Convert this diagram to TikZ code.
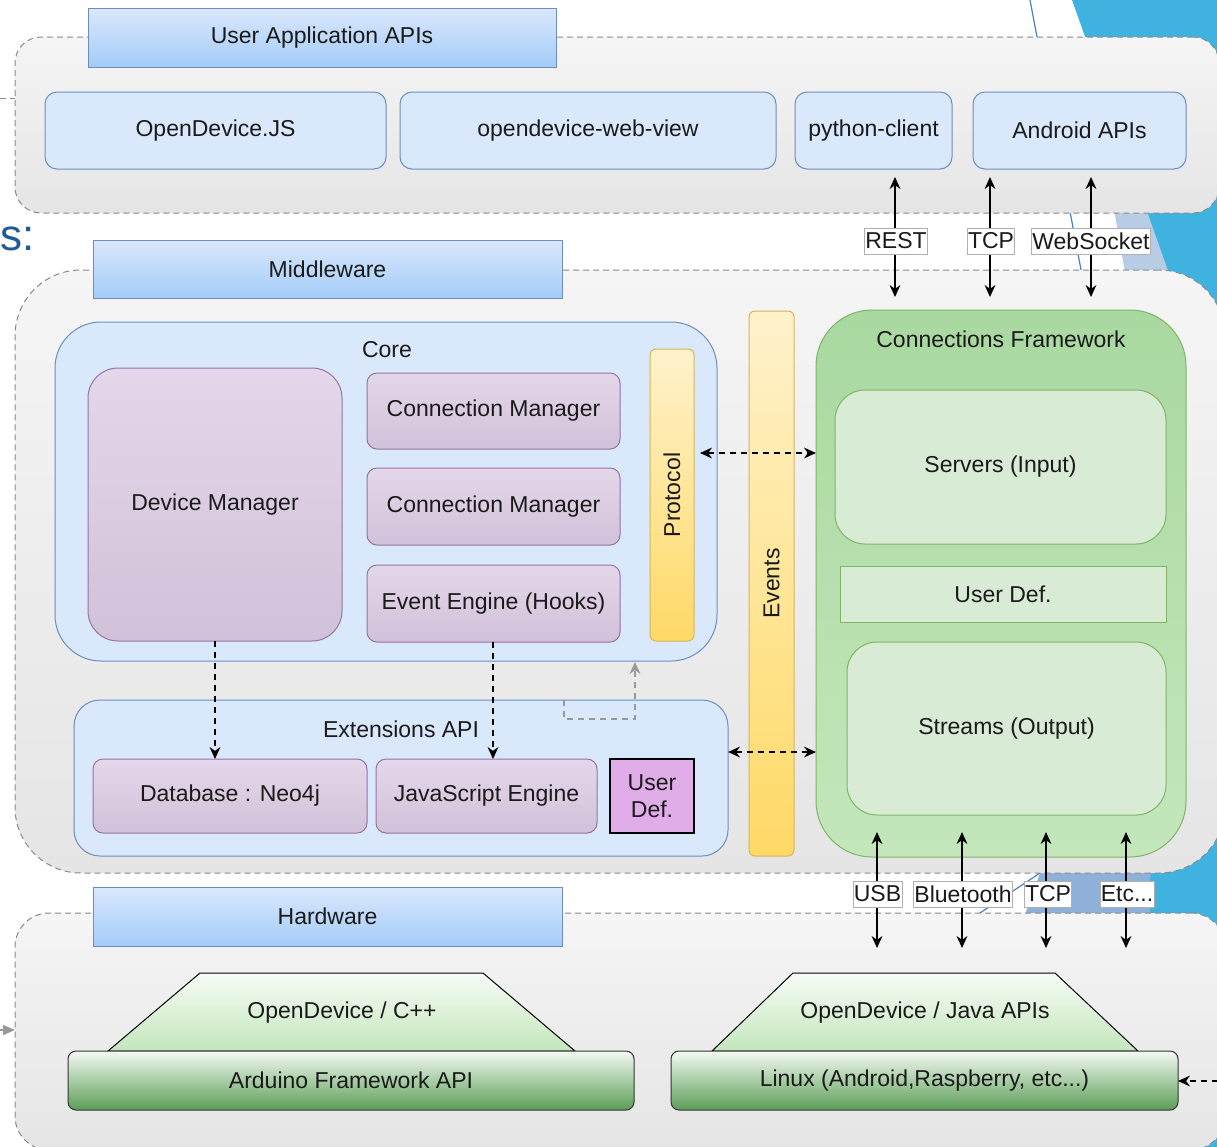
\documentclass[tikz,border=0pt]{standalone}
\usepackage{fontspec}
\setmainfont{Liberation Sans}
\usetikzlibrary{arrows.meta,fit,calc}
\definecolor{txt}{HTML}{1A1A1A}
\definecolor{grpline}{HTML}{8A8A8A}
\definecolor{grpA}{HTML}{F5F5F5}
\definecolor{grpB}{HTML}{E5E5E5}
\definecolor{blueline}{HTML}{6C8EBF}
\definecolor{tabA}{HTML}{DAE8FC}
\definecolor{tabB}{HTML}{A3CCF8}
\definecolor{bluefill}{HTML}{DAE8FC}
\definecolor{purpline}{HTML}{9673A6}
\definecolor{purpA}{HTML}{E4D7EA}
\definecolor{purpB}{HTML}{D1C1D9}
\definecolor{yelline}{HTML}{D6B656}
\definecolor{yelA}{HTML}{FFF2CC}
\definecolor{yelB}{HTML}{FFD966}
\definecolor{grnline}{HTML}{82B366}
\definecolor{cfA}{HTML}{A9D8A0}
\definecolor{cfB}{HTML}{C3E7BB}
\definecolor{grnfill}{HTML}{D8EBD4}
\definecolor{udfill}{HTML}{E0ADE8}
\definecolor{trA}{HTML}{F7FCF6}
\definecolor{trB}{HTML}{C3E6BB}
\definecolor{hwA}{HTML}{F4FAF3}
\definecolor{hwB}{HTML}{5C9E57}
\definecolor{hwline}{HTML}{333333}
\definecolor{lblline}{HTML}{B0B0B0}
\definecolor{bgblue}{HTML}{3FB2E0}
\definecolor{bglight}{HTML}{B8CDE5}
\definecolor{bgmid}{HTML}{8FB1D9}
\definecolor{bgline}{HTML}{4A7FC1}
\definecolor{stext}{HTML}{1F5C94}
\definecolor{grayarr}{HTML}{999999}
\begin{document}
\begin{tikzpicture}[x=0.5pt,y=-0.5pt,
  font=\fontsize{11.5}{13.5}\selectfont, text=txt,
  box/.style={inner sep=0pt, outer sep=0pt, line width=0.5pt},
  tx/.style={inner sep=0pt, align=center},
  grp/.style={box, draw=grpline, dash pattern=on 3pt off 2pt, top color=grpA, bottom color=grpB},
  tab/.style={box, draw=blueline, top color=tabA, bottom color=tabB},
  bluebox/.style={box, draw=blueline, fill=bluefill},
  purp/.style={box, draw=purpline, top color=purpA, bottom color=purpB},
  yel/.style={box, draw=yelline, top color=yelA, bottom color=yelB, rounded corners=3pt},
  grn/.style={box, draw=grnline, fill=grnfill},
  hwbox/.style={box, draw=hwline, top color=hwA, bottom color=hwB, rounded corners=4pt},
  lbl/.style={draw=lblline, fill=white, inner xsep=0.4pt, inner ysep=0pt, line width=0.4pt, minimum height=13pt},
  arr/.style={line width=0.7pt, {Stealth[length=6pt,width=5.4pt]}-{Stealth[length=6pt,width=5.4pt]}},
  darr/.style={line width=0.7pt, dash pattern=on 3pt off 2.5pt, {Stealth[length=6pt,width=5.4pt]}-{Stealth[length=6pt,width=5.4pt]}},
  darrone/.style={line width=0.7pt, dash pattern=on 3pt off 2.5pt, -{Stealth[length=6pt,width=5.4pt]}},
]
\useasboundingbox (0,0) rectangle (1217,1147);
\fill[white] (0,0) rectangle (1217,1147);
% slide background decoration
\fill[bglight] (1095,100) -- (1217,100) -- (1217,330) -- (1135,330) -- cycle;
\fill[bgmid] (1040,873) -- (1180,873) -- (1180,915) -- (1025,915) -- cycle;
\fill[bgblue] (1072,0) -- (1217,0) -- (1217,1147) -- (1150,1147) -- (1150,880) -- (1153,860) -- (1190,420) -- (1175,290) -- cycle;
\draw[bgline, line width=0.6pt] (1030,0) -- (1082,275);
\draw[bgline, line width=0.6pt] (977,915) -- (1040,873);
\node[anchor=base west, text=stext, font=\fontsize{22}{24}\selectfont, inner sep=0pt] (stxt) at (0,250) {s:};

% groups
\node[grp, rounded corners=13pt, fit={(15,37)(1219,213)}] (ua) {};
\node[grp, rounded corners=33pt, fit={(15,270)(1225,873)}] (mw) {};
\node[grp, rounded corners=17pt, fit={(15,913)(1225,1150)}] (hw) {};

% tabs
\node[tab, fit={(88,8)(556,67)}] (uatab) {};
\node[tx] (uatabt) at (uatab.center) {User Application APIs};
\node[tab, fit={(93,240)(562,298)}] (mwtab) {};
\node[tx] (mwtabt) at (mwtab.center) {Middleware};
\node[tab, fit={(93,887)(562,946)}] (hwtab) {};
\node[tx] (hwtabt) at (hwtab.center) {Hardware};

% user application APIs
\node[bluebox, rounded corners=6pt, fit={(45,92)(386,169)}] (odjs) {};
\node[tx] (odjst) at (odjs.center) {OpenDevice.JS};
\node[bluebox, rounded corners=6pt, fit={(400,92)(776,169)}] (wv) {};
\node[tx] (wvt) at (wv.center) {opendevice-web-view};
\node[bluebox, rounded corners=6pt, fit={(795,92)(952,169)}] (py) {};
\node[tx] (pyt) at (py.center) {python-client};
\node[bluebox, rounded corners=6pt, fit={(973,92)(1186,169)}] (andr) {};
\node[tx] (andrt) at (andr.center) {Android APIs};

% core
\node[bluebox, rounded corners=23pt, fit={(55,322)(717,661)}] (core) {};
\node[tx] (coretitle) at (387,350) {Core};
\node[purp, rounded corners=15pt, fit={(88,368)(342,641)}] (dm) {};
\node[tx] (dmt) at (dm.center) {Device Manager};
\node[purp, rounded corners=5pt, fit={(367,373)(620,449)}] (cma) {};
\node[tx] (cmat) at (cma.center) {Connection Manager};
\node[purp, rounded corners=5pt, fit={(367,468)(620,545)}] (cmb) {};
\node[tx] (cmbt) at (cmb.center) {Connection Manager};
\node[purp, rounded corners=5pt, fit={(367,565)(620,642)}] (ee) {};
\node[tx] (eet) at (ee.center) {Event Engine (Hooks)};
\node[yel, fit={(650,349)(694,641)}] (proto) {};
\node[tx, rotate=90] (protot) at (proto.center) {Protocol};

% events
\node[yel, fit={(749,311)(794,856)}] (events) {};
\node[tx, rotate=90] (eventst) at (events.center) {Events};

% connections framework
\node[box, draw=grnline, top color=cfA, bottom color=cfB, rounded corners=28pt, fit={(816,310)(1186,857)}] (cf) {};
\node[tx] (cftitle) at (1001,339) {Connections Framework};
\node[grn, rounded corners=15pt, fit={(835,390)(1166,544)}] (srv) {};
\node[tx] (srvt) at (srv.center) {Servers (Input)};
\node[grn, fit={(840,566)(1166,622)}] (udone) {};
\node[tx] (udonet) at (udone.center) {User Def.};
\node[grn, rounded corners=15pt, fit={(847,642)(1166,815)}] (strm) {};
\node[tx] (strmt) at (strm.center) {Streams (Output)};

% extensions
\node[bluebox, rounded corners=13pt, fit={(74,700)(728,856)}] (ext) {};
\node[tx] (exttitle) at (401,729) {Extensions API};
\node[purp, rounded corners=5pt, fit={(93,759)(367,833)}] (db) {};
\node[tx] (dbt) at (db.center) {Database : Neo4j};
\node[purp, rounded corners=5pt, fit={(376,759)(597,833)}] (jse) {};
\node[tx] (jset) at (jse.center) {JavaScript Engine};
\node[box, draw=black, line width=1pt, fill=udfill, fit={(610,759)(694,833)}] (udtwo) {};
\node[tx] (udtwot) at (udtwo.center) {User\\Def.};

% hardware
\shadedraw[top color=trA, bottom color=trB, draw=black, line width=0.5pt] (200,973) -- (483,973) -- (575,1051) -- (108,1051) -- cycle;
\node[tx] (cpp) at (342,1013) {OpenDevice / C++};
\shadedraw[top color=trA, bottom color=trB, draw=black, line width=0.5pt] (793,973) -- (1055,973) -- (1138,1051) -- (712,1051) -- cycle;
\node[tx] (java) at (925,1013) {OpenDevice / Java APIs};
\coordinate (javatop) at (925,973);
\node[hwbox, fit={(68,1051)(634,1110)}] (ard) {};
\node[tx] (ardt) at (ard.center) {Arduino Framework API};
\node[hwbox, fit={(671,1051)(1178,1110)}] (linux) {};
\node[tx] (linuxt) at (linux.center) {Linux (Android,Raspberry, etc...)};

% top protocol arrows
\coordinate (xrest) at (895,0);
\coordinate (xtcp) at (990,0);
\coordinate (xws) at (1091,0);
\draw[arr, shorten <=4pt, shorten >=6.5pt] (xrest |- py.south) -- (xrest |- cf.north);
\draw[arr, shorten <=4pt, shorten >=6.5pt] (xtcp |- andr.south) -- (xtcp |- cf.north);
\draw[arr, shorten <=4pt, shorten >=6.5pt] (xws |- andr.south) -- (xws |- cf.north);
\node[lbl] (rest) at (896,241) {REST};
\node[lbl] (tcpa) at (991,241) {TCP};
\node[lbl] (ws) at (1091,241) {WebSocket};

% bottom protocol arrows
\coordinate (xusb) at (877,0);
\coordinate (xbt) at (962,0);
\coordinate (xtcpb) at (1046,0);
\coordinate (xetc) at (1126,0);
\draw[arr, shorten <=8.5pt, shorten >=12.5pt] (xusb |- strm.south) -- (xusb |- javatop);
\draw[arr, shorten <=8.5pt, shorten >=12.5pt] (xbt |- strm.south) -- (xbt |- javatop);
\draw[arr, shorten <=8.5pt, shorten >=12.5pt] (xtcpb |- strm.south) -- (xtcpb |- javatop);
\draw[arr, shorten <=8.5pt, shorten >=12.5pt] (xetc |- strm.south) -- (xetc |- javatop);
\node[lbl] (usb) at (877.5,894) {USB};
\node[lbl] (bt) at (963,894) {Bluetooth};
\node[lbl] (tcpb) at (1048,894) {TCP};
\node[lbl] (etc) at (1127,894) {Etc...};

% dashed connectors
\coordinate (ya) at (0,453);
\coordinate (yb) at (0,752);
\draw[darr, shorten <=3pt] (proto.east |- ya) -- (cf.west |- ya);
\draw[darr] (ext.east |- yb) -- (cf.west |- yb);
\coordinate (xdm) at (215,0);
\coordinate (xee) at (493,0);
\draw[darrone] (xdm |- dm.south) -- (xdm |- db.north);
\draw[darrone] (xee |- ee.south) -- (xee |- jse.north);
\coordinate (ga) at (564,700);
\coordinate (gb) at (635,719);
\draw[grayarr, line width=0.7pt, dash pattern=on 3pt off 2.5pt, -{Stealth[length=6pt,width=5.4pt]}, shorten >=0.5pt] (ga) -- (ga |- gb) -- (gb) -- (gb |- core.south);

% connectors from outside the picture
\coordinate (lt) at (-10,98);
\coordinate (lh) at (-10,1030);
\coordinate (lr) at (1240,1081);
\draw[grpline, line width=0.5pt, dash pattern=on 3pt off 2pt] (lt) -- (ua.west |- lt);
\draw[grayarr, line width=0.7pt, dash pattern=on 3pt off 2pt, -{Triangle[length=6pt,width=5pt]}] (lh) -- (hw.west |- lh);
\draw[darrone] (lr) -- (linux.east |- lr);
\end{tikzpicture}
\end{document}
